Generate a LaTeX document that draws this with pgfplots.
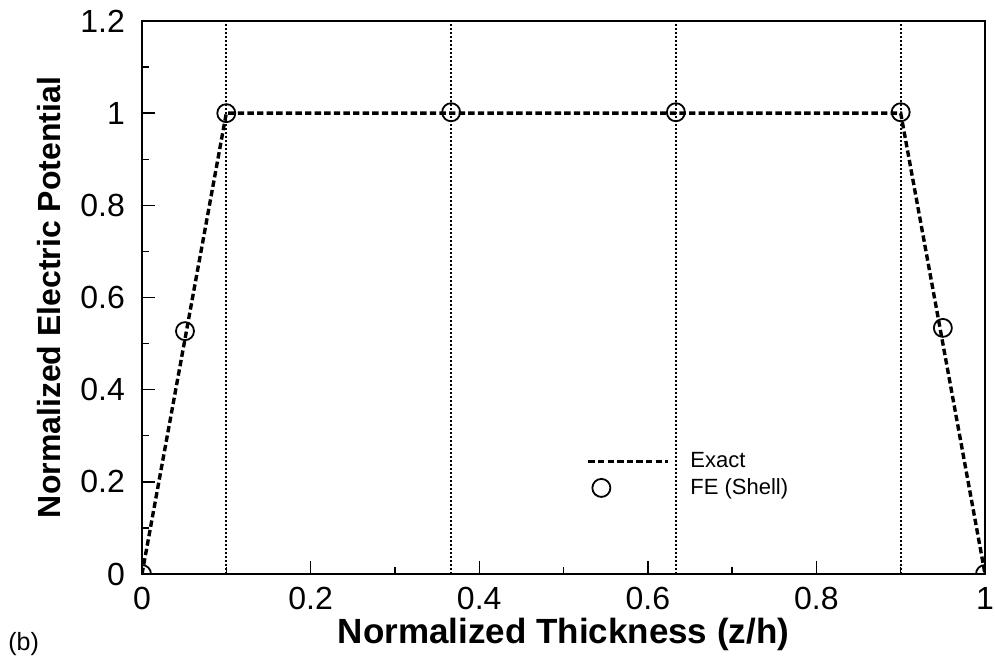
\documentclass[border=0pt]{standalone}
\usepackage{fontspec}
\setmainfont{Liberation Sans}
\usepackage{pgfplots}
\pgfplotsset{compat=1.18}
\pgfplotsset{
    exactleg/.style={legend image code/.code={\draw[##1] (0pt,0pt) -- (40pt,0pt); \path[draw=none] (0pt,0pt) -- (49pt,0pt);}},
    feleg/.style={legend image code/.code={\draw[##1] plot coordinates {(6.5pt,0pt)}; \path[draw=none] (0pt,0pt) -- (49pt,0pt);}},
}
\begin{document}
\begin{tikzpicture}
\begin{axis}[
    name=ax,
    width=421.5pt, height=276.5pt,
    scale only axis,
    xmin=0, xmax=1, ymin=0, ymax=1.2,
    xtick={0,0.2,0.4,0.6,0.8,1},
    xticklabels={0,0.2,0.4,0.6,0.8,1},
    ytick={0,0.2,0.4,0.6,0.8,1,1.2},
    yticklabels={0,0.2,0.4,0.6,0.8,1,1.2},
    minor tick num=1,
    tick align=inside,
    tick pos=left,
    major tick length=6.5pt, minor tick length=3.5pt,
    axis line style={line width=1.4pt},
    tick style={line width=0.7pt, black},
    ticklabel style={font=\fontsize{16}{16}\selectfont},
    xticklabel style={yshift=-3pt},
    yticklabel style={xshift=-5pt},
    xlabel={\textbf{Normalized Thickness (z/h)}},
    ylabel={\textbf{Normalized Electric Potential}},
    xlabel style={font=\fontsize{17.5}{17.5}\selectfont, yshift=2.5pt},
    ylabel style={font=\fontsize{16}{16}\selectfont, yshift=3pt},
    clip marker paths=true,
    legend style={draw=none, fill=none, inner sep=0pt,
        at={(rel axis cs:0.527,0.228)}, anchor=north west,
        font=\fontsize{11}{13}\selectfont, row sep=0pt},
    legend cell align=left,
]
% layer interfaces
\addplot[densely dotted, line width=1pt, forget plot] coordinates {(0.1,0)(0.1,1.2)};
\addplot[densely dotted, line width=1pt, forget plot] coordinates {(0.3667,0)(0.3667,1.2)};
\addplot[densely dotted, line width=1pt, forget plot] coordinates {(0.6333,0)(0.6333,1.2)};
\addplot[densely dotted, line width=1pt, forget plot] coordinates {(0.9,0)(0.9,1.2)};
% exact
\addplot[black, line width=1.7pt, dash pattern=on 3.2pt off 1.6pt, exactleg]
    coordinates {(0,0)(0.1,1)(0.9,1)(1,0)};
\addlegendentry{Exact}
% FE shell
\addplot[only marks, mark=o, mark size=4.5pt, mark options={line width=0.9pt}, feleg]
    coordinates {(0,0)(0.051,0.527)(0.1,1)(0.3667,1.002)(0.6333,1.002)(0.9,1.002)(0.95,0.534)(1,0)};
\addlegendentry{FE (Shell)}
\end{axis}
\node[anchor=west, inner sep=0pt, font=\fontsize{12.5}{12.5}\selectfont, xshift=-67pt, yshift=-35pt] at (ax.south west) {(b)};
\pgfresetboundingbox
\path ([xshift=-71pt,yshift=-44pt]ax.south west) rectangle ([xshift=5pt,yshift=10.5pt]ax.north east);
\end{tikzpicture}
\end{document}
